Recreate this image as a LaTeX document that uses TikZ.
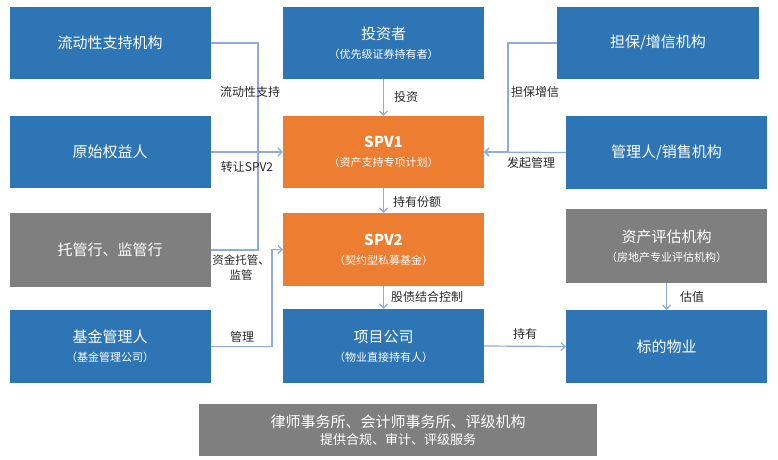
\documentclass[tikz,border=0pt]{standalone}
\usepackage{fontspec}
\setmainfont{Noto Sans CJK SC}
\usetikzlibrary{arrows.meta}
\definecolor{PartyBlue}{RGB}{46,117,182}
\definecolor{SpvOrange}{RGB}{237,125,49}
\definecolor{AuxGray}{RGB}{127,127,127}
\definecolor{FlowBlue}{RGB}{143,170,220}
\tikzset{
	party/.style={fill=PartyBlue,text=white,minimum width=201pt,minimum height=72pt,inner sep=0pt,
		align=center,font=\fontsize{15}{19}\selectfont},
	spv/.style={party,fill=SpvOrange},
	aux/.style={party,fill=AuxGray},
	flow/.style={draw=FlowBlue,line width=1.2pt},
	into/.style={flow,-{Straight Barb[length=4pt,width=8pt]}},
	note/.style={font=\fontsize{12}{15}\selectfont,text=black!85,inner sep=0pt,align=center},
}
\newcommand{\subline}[1]{{\fontsize{11}{13}\selectfont #1}}

\begin{document}
\begin{tikzpicture}[x=1pt,y=-1pt]
			\useasboundingbox (0,0) rectangle (778,459);
			\node[party] (liq) at (110,43) {流动性支持机构};
			\node[party] (orig) at (110,152) {原始权益人};
			\node[aux,minimum height=74pt] (cust) at (110,250) {托管行、监管行};
			\node[party,minimum height=73pt] (fund) at (110,346.5) {基金管理人\\\subline{（基金管理公司）}};
			\node[party] (inv) at (383.5,43) {投资者\\\subline{（优先级证券持有者）}};
			\node[spv] (spv1) at (383.5,152) {\textbf{SPV1}\\\subline{（资产支持专项计划）}};
			\node[spv,minimum height=73pt] (spv2) at (383.5,249.5) {\textbf{SPV2}\\\subline{（契约型私募基金）}};
			\node[party,minimum height=74pt] (proj) at (383.5,346) {项目公司\\\subline{（物业直接持有人）}};
			\node[party,minimum width=202pt] (guar) at (658,43) {担保/增信机构};
			\node[party,minimum height=73pt] (sale) at (666.5,152.5) {管理人/销售机构};
			\node[aux,minimum height=74pt] (eval) at (666.5,246) {资产评估机构\\\subline{（房地产专业评估机构）}};
			\node[party,minimum height=73pt] (tgt) at (666.5,346.5) {标的物业};
			\node[aux,minimum width=398pt,minimum height=52pt,font=\fontsize{15}{17}\selectfont] (serv) at (398,430)
				{律师事务所、会计师事务所、评级机构\\{\fontsize{13}{15}\selectfont 提供合规、审计、评级服务}};
			\coordinate (liqbus) at (258,43);
			\coordinate (fundbus) at (272,346.5);
			\coordinate (guarbus) at (508,43);
			\draw[flow] (liq.east) -- (liqbus) |- (cust.east);
			\draw[into] (orig.east) -- (spv1.west);
			\draw[into] (fund.east) -- (fundbus) |- (spv2.west);
			\draw[into] (inv.south) -- (spv1.north);
			\draw[into] (spv1.south) -- (spv2.north);
			\draw[into] (spv2.south) -- (proj.north);
			\draw[into] (guar.west) -- (guarbus) |- (spv1.east);
			\draw[into] (sale.west) -- (spv1.east);
			\draw[into] (proj.east) -- (tgt.west);
			\draw[into] (eval.south) -- (tgt.north);
			\node[note] (lliq) at (250,92) {流动性支持};
			\node[note] (lorig) at (247,167) {转让SPV2};
			\node[note,font=\fontsize{11.5}{15}\selectfont] (lcust) at (241,268) {资金托管、\\监管};
			\node[note] (lfund) at (242,337) {管理};
			\node[note] (linv) at (406,97) {投资};
			\node[note] (lshare) at (417,202) {持有份额};
			\node[note] (lctrl) at (427,297) {股债结合控制};
			\node[note] (lhold) at (525,334) {持有};
			\node[note] (lval) at (692,297) {估值};
			\node[note] (lguar) at (535,92) {担保增信};
			\node[note] (lsale) at (531,163) {发起管理};
		\end{tikzpicture}
\end{document}
